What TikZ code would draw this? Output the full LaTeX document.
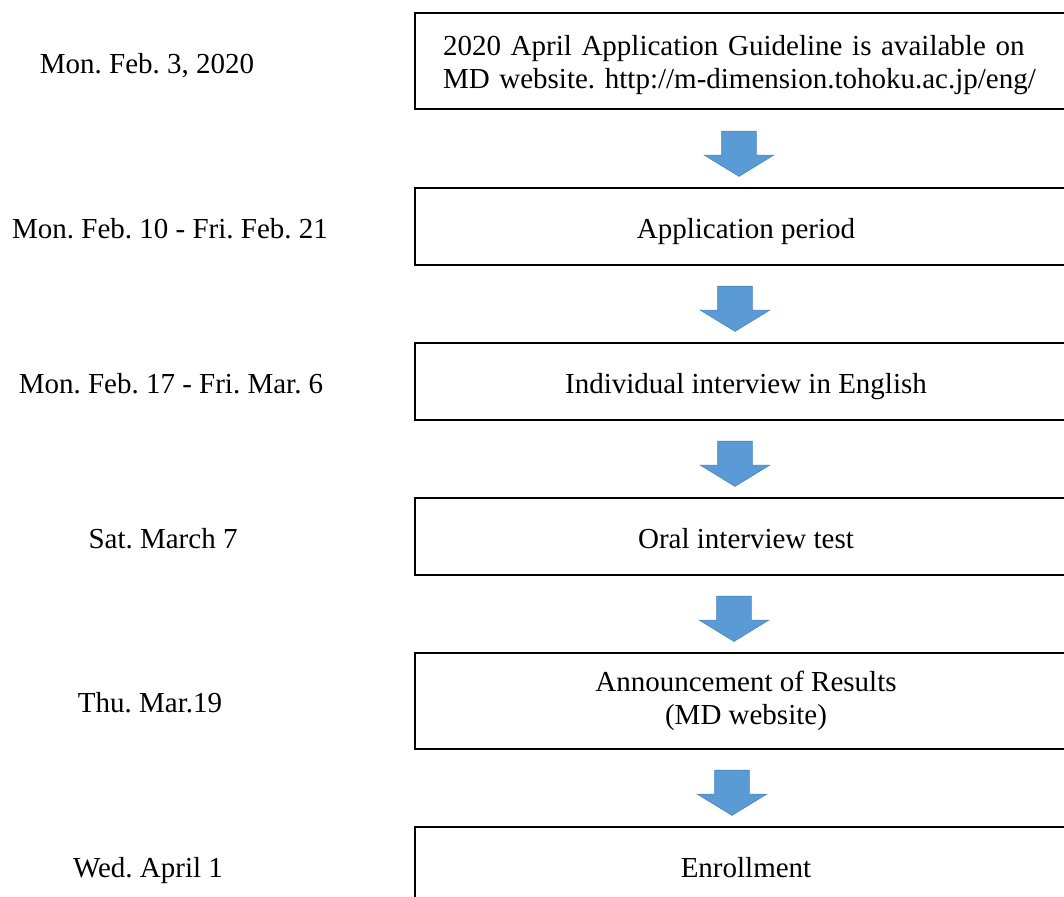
\documentclass[tikz,border=0pt]{standalone}
\usepackage{fontspec}
\setmainfont{Liberation Serif}
\usepackage{xcolor}
\definecolor{ArrowBlue}{HTML}{5B9BD5}
\definecolor{ArrowEdge}{HTML}{4A86BF}
\usetikzlibrary{calc}
\usetikzlibrary{positioning}
\usetikzlibrary{shapes.arrows}
\frenchspacing

\begin{document}
\begin{tikzpicture}[x=1pt, y=-1pt,
    font=\fontsize{29}{33}\selectfont,
    node distance=78pt,
    stepbox/.style={shape=rectangle,
      draw,
      line width=2pt,
      inner sep=0pt,
      outer sep=0pt,
      minimum width=662pt,
      minimum height=77pt,
      align=center},
    oneline/.style={text height=24pt, text depth=0pt},
    datelabel/.style={inner sep=0pt, oneline},
    downarrow/.style={shape=single arrow,
      shape border rotate=270,
      fill=ArrowBlue,
      draw=ArrowEdge,
      line width=0.6pt,
      inner sep=17pt,
      minimum height=42pt,
      minimum width=69pt,
      single arrow head extend=17.5pt,
      single arrow tip angle=117}]
    \useasboundingbox (0,0) rectangle (1064,896);
    \clip (0,0) rectangle (1064,896);

    \node[name=guide,
      stepbox,
      minimum height=96pt,
      text width=606pt,
      align=left] at (746,61.5)
      {\rule{0pt}{28pt}2020 April Application Guideline is available on\\
       MD website. http://m-dimension.tohoku.ac.jp/eng/};

    \node[name=apply,
      stepbox,
      oneline,
      below=of guide] {Application period};

    \node[name=indiv,
      stepbox,
      oneline,
      below=of apply] {Individual interview in English};

    \node[name=oral,
      stepbox,
      oneline,
      below=of indiv] {Oral interview test};

    \node[name=result,
      stepbox,
      minimum height=96pt,
      below=of oral] {Announcement of Results\\(MD website)};

    \node[name=enroll,
      stepbox,
      oneline,
      below=of result] {Enrollment};

    % dates on the left
    \node[name=dguide, datelabel] at (147,0 |- guide) {Mon. Feb. 3, 2020};
    \node[name=dapply, datelabel] at (170,0 |- apply) {Mon. Feb. 10 - Fri. Feb. 21};
    \node[name=dindiv, datelabel] at (171,0 |- indiv) {Mon. Feb. 17 - Fri. Mar. 6};
    \node[name=doral, datelabel] at (163,0 |- oral) {Sat. March 7};
    \node[name=dresult, datelabel] at (150,0 |- result) {Thu. Mar.19};
    \node[name=denroll, datelabel] at (148,0 |- enroll) {Wed. April 1};

    % block arrows between the steps
    \node[name=a1, downarrow, xshift=-7pt] at ($(guide.south)!0.5!(apply.north)$) {};
    \node[name=a2, downarrow, xshift=-11pt] at ($(apply.south)!0.5!(indiv.north)$) {};
    \node[name=a3, downarrow, xshift=-11pt] at ($(indiv.south)!0.5!(oral.north)$) {};
    \node[name=a4, downarrow, xshift=-12pt] at ($(oral.south)!0.5!(result.north)$) {};
    \node[name=a5, downarrow, xshift=-14pt] at ($(result.south)!0.5!(enroll.north)$) {};
  \end{tikzpicture}
\end{document}
